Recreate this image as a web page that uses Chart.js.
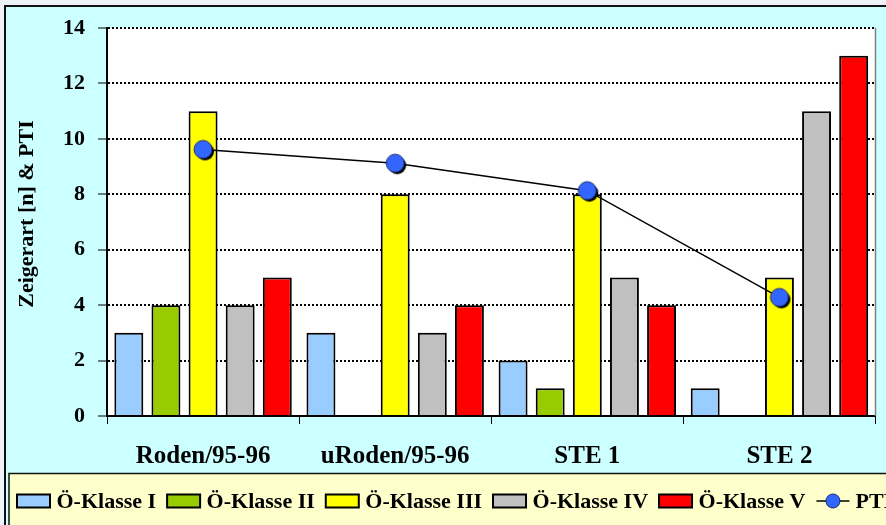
<!DOCTYPE html>
<html>
<head>
<meta charset="utf-8">
<script src="https://cdn.jsdelivr.net/npm/chart.js@4"></script>
<style>
  html, body { margin: 0; padding: 0; background: #ffffff; }
  canvas { display: block; }
</style>
</head>
<body>
<canvas id="chart" width="886" height="525"></canvas>
<script>
// Categories and values
const categories = ['Roden/95-96', 'uRoden/95-96', 'STE 1', 'STE 2'];
const klasseI   = [3, 3, 2, 1];
const klasseII  = [4, null, 1, null];
const klasseIII = [11, 8, 8, 5];
const klasseIV  = [4, 3, 5, 11];
const klasseV   = [5, 4, 4, 13];
const pti       = [9.62, 9.12, 8.13, 4.28];
const yTicks    = [0, 2, 4, 6, 8, 10, 12, 14];
const seriesNames = ['Ö-Klasse I', 'Ö-Klasse II', 'Ö-Klasse III', 'Ö-Klasse IV', 'Ö-Klasse V', 'PTI'];
const axisTitle = 'Zeigerart [n] & PTI';

const FONT = "'Liberation Serif', 'Times New Roman', serif";
const barColors = ['#99CCFF', '#99CC00', '#FFFF00', '#C0C0C0', '#FF0000'];
const markerBlue = '#3366FF';

// Round marker with a dark drop shadow
function makeMarker() {
  const c = document.createElement('canvas');
  c.width = 30; c.height = 30;
  const g = c.getContext('2d');
  g.fillStyle = '#000000';
  g.beginPath(); g.arc(17, 17, 9, 0, Math.PI * 2); g.fill();
  g.fillStyle = markerBlue;
  g.beginPath(); g.arc(15, 15, 9, 0, Math.PI * 2); g.fill();
  g.lineWidth = 1; g.strokeStyle = '#1a2a70'; g.stroke();
  return c;
}

// Frame, plot background, axis title and legend
const framePlugin = {
  id: 'frame',
  beforeDraw(chart) {
    const ctx = chart.ctx;
    const a = chart.chartArea;
    ctx.save();
    ctx.fillStyle = '#EEF3F9';
    ctx.fillRect(0, 0, chart.width, chart.height);
    ctx.fillStyle = '#CCFFFF';
    ctx.fillRect(5, 6, chart.width, chart.height);
    ctx.strokeStyle = '#111111';
    ctx.lineWidth = 2;
    ctx.beginPath();
    ctx.moveTo(5, chart.height + 2); ctx.lineTo(5, 6); ctx.lineTo(chart.width + 2, 6);
    ctx.stroke();
    ctx.fillStyle = '#FFFFFF';
    ctx.fillRect(a.left, a.top, a.right - a.left, a.bottom - a.top);
    ctx.restore();
  },
  afterDraw(chart) {
    const ctx = chart.ctx;
    const a = chart.chartArea;
    ctx.save();
    // right edge of plot area
    ctx.strokeStyle = '#808080';
    ctx.lineWidth = 1.5;
    ctx.beginPath(); ctx.moveTo(a.right, a.top); ctx.lineTo(a.right, a.bottom); ctx.stroke();

    // vertical axis title
    ctx.fillStyle = '#000000';
    ctx.font = 'bold 22px ' + FONT;
    ctx.textAlign = 'center';
    ctx.textBaseline = 'middle';
    ctx.translate(27, 214);
    ctx.rotate(-Math.PI / 2);
    ctx.fillText(axisTitle, 0, 0);
    ctx.restore();

    // legend
    ctx.save();
    ctx.fillStyle = '#FFFFCC';
    ctx.fillRect(9, 473.5, chart.width, 60);
    ctx.strokeStyle = '#111111';
    ctx.lineWidth = 1.5;
    ctx.strokeRect(9, 473.5, chart.width + 10, 60);
    ctx.font = 'bold 22px ' + FONT;
    ctx.textBaseline = 'middle';
    ctx.textAlign = 'left';
    const cy = 501;
    let x = 17;
    chart.data.datasets.forEach((ds) => {
      if (ds.type === 'line') {
        ctx.strokeStyle = '#000000';
        ctx.lineWidth = 1.5;
        ctx.beginPath(); ctx.moveTo(x, cy); ctx.lineTo(x + 33, cy); ctx.stroke();
        ctx.fillStyle = markerBlue;
        ctx.beginPath(); ctx.arc(x + 16.5, cy, 7, 0, Math.PI * 2); ctx.fill();
        ctx.lineWidth = 1; ctx.strokeStyle = '#1a2a70'; ctx.stroke();
        x += 39;
      } else {
        ctx.fillStyle = ds.backgroundColor;
        ctx.fillRect(x, cy - 6.5, 33, 13);
        ctx.strokeStyle = '#000000';
        ctx.lineWidth = 2;
        ctx.strokeRect(x, cy - 6.5, 33, 13);
        x += 39.5;
      }
      ctx.fillStyle = '#000000';
      ctx.fillText(ds.label, x, cy + 1);
      x += ctx.measureText(ds.label).width + 11;
    });
    ctx.restore();
  }
};

const barSeries = [klasseI, klasseII, klasseIII, klasseIV, klasseV];
const datasets = barSeries.map((values, i) => ({
  type: 'bar',
  label: seriesNames[i],
  data: values,
  backgroundColor: barColors[i],
  borderColor: '#000000',
  borderWidth: 2,
  categoryPercentage: 0.966,
  barPercentage: 0.78,
  order: 2
}));
datasets.push({
  type: 'line',
  label: seriesNames[5],
  data: pti,
  borderColor: '#000000',
  borderWidth: 1.5,
  tension: 0,
  pointStyle: makeMarker(),
  pointRadius: 9,
  pointHoverRadius: 9,
  order: 1
});

new Chart(document.getElementById('chart'), {
  data: { labels: categories, datasets },
  plugins: [framePlugin],
  options: {
    responsive: false,
    animation: false,
    events: [],
    layout: { padding: { left: 0, top: 28, right: 3, bottom: 0 } },
    plugins: { legend: { display: false }, tooltip: { enabled: false } },
    scales: {
      x: {
        offset: true,
        grid: {
          offset: true,
          drawOnChartArea: false,
          drawTicks: true,
          tickLength: 8,
          tickColor: '#000000',
          tickWidth: 1
        },
        border: { display: true, color: '#000000', width: 2 },
        ticks: {
          color: '#000000',
          font: { family: FONT, size: 25, weight: 'bold' },
          padding: 18,
          maxRotation: 0
        },
        afterFit(scale) { scale.height = 109; }
      },
      y: {
        min: 0,
        max: 14,
        afterBuildTicks(scale) { scale.ticks = yTicks.map(v => ({ value: v })); },
        grid: {
          color: '#000000',
          lineWidth: 2,
          tickBorderDash: [],
          tickColor: '#000000',
          tickWidth: 1,
          tickLength: 9
        },
        border: { display: true, color: '#000000', width: 2, dash: [2, 2] },
        ticks: {
          color: '#000000',
          font: { family: FONT, size: 22, weight: 'bold' },
          padding: 13
        },
        afterFit(scale) { scale.width = 107; }
      }
    }
  }
});
</script>
</body>
</html>
